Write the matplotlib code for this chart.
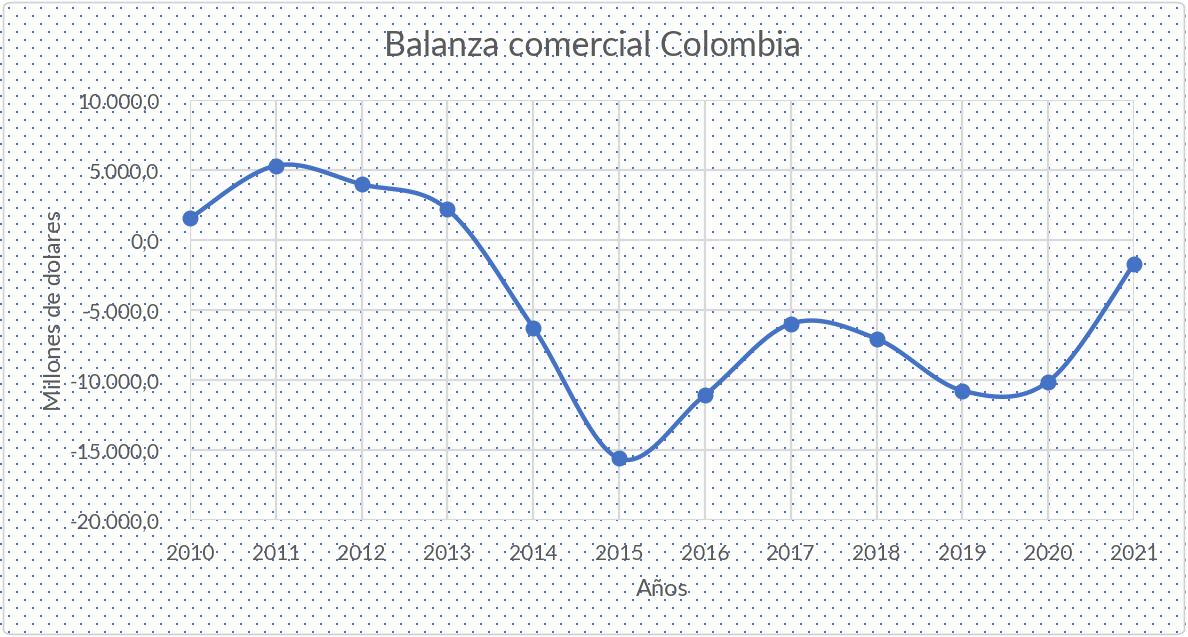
import numpy as np
import matplotlib
matplotlib.use("Agg")
import matplotlib.pyplot as plt
from matplotlib.patches import FancyBboxPatch

# datos
anios = [2010, 2011, 2012, 2013, 2014, 2015, 2016, 2017, 2018, 2019, 2020, 2021]
balanza = [1550, 5310, 3980, 2190, -6260, -15600, -11070, -5980, -7050, -10760, -10120, -1690]
y_ticks = [10000, 5000, 0, -5000, -10000, -15000, -20000]

azul = "#4472C4"
gris_txt = "#595959"
gris_grid = "#D9D9D9"

plt.rcParams['font.family'] = ['Lato', 'DejaVu Sans']


def suavizar(x, y, n=40):
    # curva tipo Excel (Catmull-Rom con Bezier)
    x = np.asarray(x, float)
    y = np.asarray(y, float)
    xs, ys = [], []
    t = np.linspace(0, 1, n)
    for i in range(len(x) - 1):
        i0 = max(i - 1, 0)
        i3 = min(i + 2, len(x) - 1)
        for arr, out in ((x, xs), (y, ys)):
            p0, p1, p2, p3 = arr[i0], arr[i], arr[i + 1], arr[i3]
            c1 = p1 + (p2 - p0) / 6
            c2 = p2 - (p3 - p1) / 6
            seg = ((1 - t) ** 3 * p1 + 3 * (1 - t) ** 2 * t * c1
                   + 3 * (1 - t) * t ** 2 * c2 + t ** 3 * p2)
            out.extend(seg if i == 0 else seg[1:])
    return np.array(xs), np.array(ys)


W, H = 1188, 637
fig = plt.figure(figsize=(W / 100, H / 100), dpi=100)
fig.patch.set_facecolor("white")

# fondo punteado
fondo = np.ones((H, W, 4))
rgb = np.array(matplotlib.colors.to_rgb(azul))
for r in range(7, H, 8):
    off = 8 if (r // 8) % 2 == 0 else 0
    for c in range(off, W, 16):
        fondo[r:r + 2, c:c + 2, :3] = rgb
fig.figimage(fondo, xo=0, yo=0, zorder=-10)

borde = FancyBboxPatch((0.003, 0.004), 0.994, 0.992, boxstyle="round,pad=0,rounding_size=0.008",
                       transform=fig.transFigure, fill=False, ec="#D0D0D0", lw=1.2)
fig.patches.append(borde)

ax = fig.add_axes([190 / W, 1 - 520 / H, (1134 - 190) / W, 420 / H])
ax.set_facecolor("none")

idx = np.arange(len(anios))
sx, sy = suavizar(idx, balanza)
ax.plot(sx, sy, color=azul, lw=3.2, zorder=3, solid_capstyle="round", clip_on=False)
ax.plot(idx, balanza, "o", color=azul, ms=10.5, zorder=4, clip_on=False)

ax.set_xlim(0, len(anios) - 1)
ax.set_ylim(-20000, 10000)
ax.set_xticks(idx)
ax.set_xticklabels([str(a) for a in anios])
ax.set_yticks(y_ticks)
ax.set_yticklabels([f"{v:,.1f}".replace(",", "X").replace(".", ",").replace("X", ".") for v in y_ticks])

ax.grid(True, color=gris_grid, lw=1.6, zorder=1)
ax.set_axisbelow(True)
for s in ax.spines.values():
    s.set_visible(False)
ax.tick_params(length=0, labelsize=15, labelcolor=gris_txt)
ax.tick_params(axis="y", pad=22)
ax.tick_params(axis="x", pad=17)

fig.text(55 / W, 1 - 311 / H, "Millones de dolares", rotation=90, ha="center", va="center",
         fontsize=17, color=gris_txt)
fig.text(662 / W, 1 - 590 / H, "Años", ha="center", va="center", fontsize=17, color=gris_txt)
fig.text(593 / W, 1 - 46 / H, "Balanza comercial Colombia", ha="center", va="center",
         fontsize=24.5, color=gris_txt)

fig.savefig("out.png", dpi=100)
